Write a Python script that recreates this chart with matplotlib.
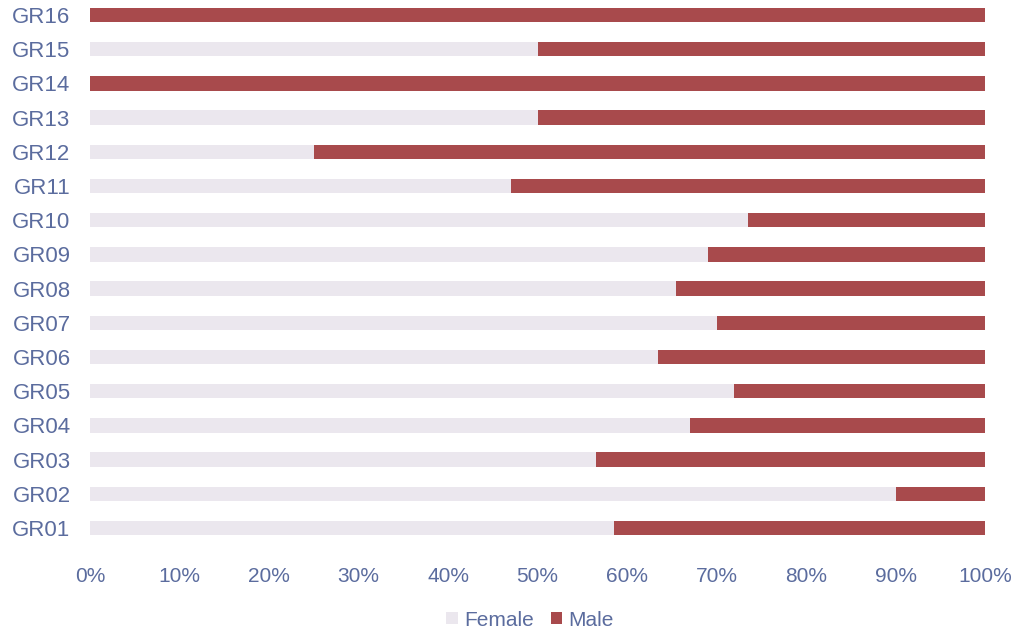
import matplotlib.pyplot as plt
import numpy as np

groups = ["GR01", "GR02", "GR03", "GR04", "GR05", "GR06", "GR07", "GR08",
          "GR09", "GR10", "GR11", "GR12", "GR13", "GR14", "GR15", "GR16"]
female = [58.5, 90, 56.5, 67, 72, 63.5, 70, 65.5, 69, 73.5, 47, 25, 50, 0, 50, 0]
male = [100 - f for f in female]

FEMALE_COLOR = "#ebe7ee"
MALE_COLOR = "#a84a4c"
TEXT_COLOR = "#5b6c9e"

plt.rcParams["font.family"] = ["Liberation Sans", "DejaVu Sans"]

fig = plt.figure(figsize=(10.18, 6.33), dpi=100)
ax = fig.add_axes([0.0884, 0.139, 0.8792, 0.861])

y = np.arange(len(groups))
bar_h = 0.42
ax.barh(y, female, height=bar_h, color=FEMALE_COLOR, label="Female")
ax.barh(y, male, left=female, height=bar_h, color=MALE_COLOR, label="Male")

ax.set_xlim(0, 100)
ax.set_ylim(-0.5, 15.44)
ax.set_xticks(range(0, 101, 10))
ax.set_xticklabels([f"{v}%" for v in range(0, 101, 10)])
ax.set_yticks(y)
ax.set_yticklabels(groups)

ax.tick_params(axis="both", length=0, labelcolor=TEXT_COLOR)
ax.tick_params(axis="x", pad=16, labelsize=15)
ax.tick_params(axis="y", pad=14, labelsize=16)
for s in ax.spines.values():
    s.set_visible(False)

fig.legend(loc="center", bbox_to_anchor=(530 / 1018, 1 - 620 / 633), ncol=2,
           frameon=False, fontsize=15, labelcolor=TEXT_COLOR,
           handlelength=0.55, handleheight=0.55, handletextpad=0.3,
           columnspacing=0.8)

fig.savefig("out.png", dpi=100, facecolor="white")
